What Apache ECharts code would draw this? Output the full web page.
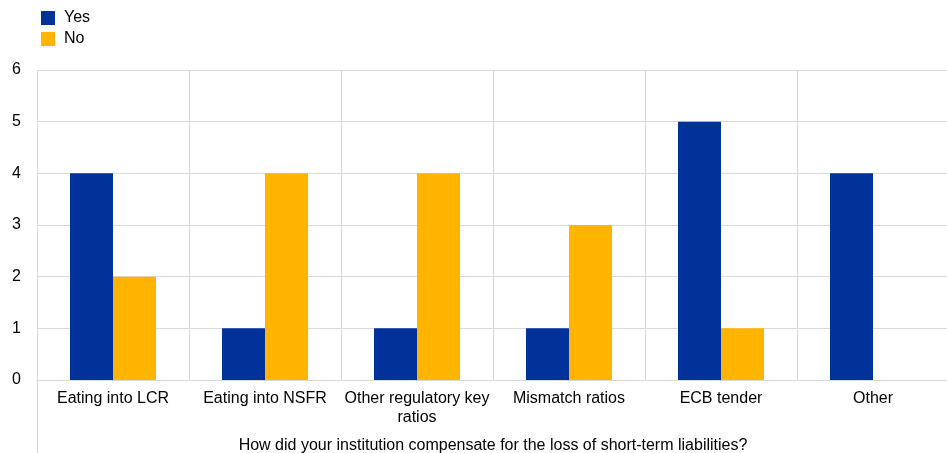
<!DOCTYPE html>
<html><head><meta charset="utf-8">
<script src="https://cdn.jsdelivr.net/npm/echarts@6/dist/echarts.min.js"></script>
<style>html,body{margin:0;padding:0;background:#fff}#c{width:947px;height:453px}</style>
</head><body><div id="c"></div>
<script>
const categories = ["Eating into LCR", "Eating into NSFR", "Other regulatory key\nratios", "Mismatch ratios", "ECB tender", "Other"];
const yesValues = [4, 1, 1, 1, 5, 4];
const noValues = [2, 4, 4, 3, 1, 0];
const yTicks = [0, 1, 2, 3, 4, 5, 6];
const axisTitle = "How did your institution compensate for the loss of short-term liabilities?";

const chart = echarts.init(document.getElementById('c'), null, {renderer: 'canvas'});
const font = 'Liberation Sans, Arial, sans-serif';
chart.setOption({
  animation: false,
  textStyle: {fontFamily: font},
  legend: {
    orient: 'vertical', left: 36, top: 5, itemWidth: 14, itemHeight: 14, itemGap: 5,
    icon: 'rect', textStyle: {fontSize: 16, color: '#000', fontFamily: font, padding: [0, 0, 0, 4]},
    data: ['Yes', 'No']
  },
  grid: {left: 37, right: -2, top: 70, bottom: 73, containLabel: false, outerBoundsMode: 'none'},
  xAxis: {
    type: 'category', data: categories,
    axisLine: {show: true, lineStyle: {color: '#d9d9d9'}},
    axisTick: {show: false},
    splitLine: {show: true, interval: 0, lineStyle: {color: '#d9d9d9'}},
    axisLabel: {fontSize: 16, color: '#000', margin: 9, lineHeight: 19, interval: 0, fontFamily: font},
    name: axisTitle, nameLocation: 'middle', nameGap: 58,
    nameTextStyle: {fontSize: 16, color: '#000', fontFamily: font}
  },
  yAxis: {
    type: 'value', min: yTicks[0], max: yTicks[yTicks.length - 1], interval: 1,
    axisLine: {show: false}, axisTick: {show: false},
    splitLine: {show: true, lineStyle: {color: '#d9d9d9'}},
    axisLabel: {fontSize: 16, color: '#000', margin: 16, fontFamily: font}
  },
  graphic: [{type: 'line', shape: {x1: 37.5, y1: 70, x2: 37.5, y2: 453}, style: {stroke: '#d9d9d9', lineWidth: 1}}],
  series: [
    {name: 'Yes', type: 'bar', data: yesValues, barWidth: 43, barGap: '0%', itemStyle: {color: '#003299'}},
    {name: 'No', type: 'bar', data: noValues, barWidth: 43, barGap: '0%', itemStyle: {color: '#FFB400'}}
  ]
});
</script></body></html>
